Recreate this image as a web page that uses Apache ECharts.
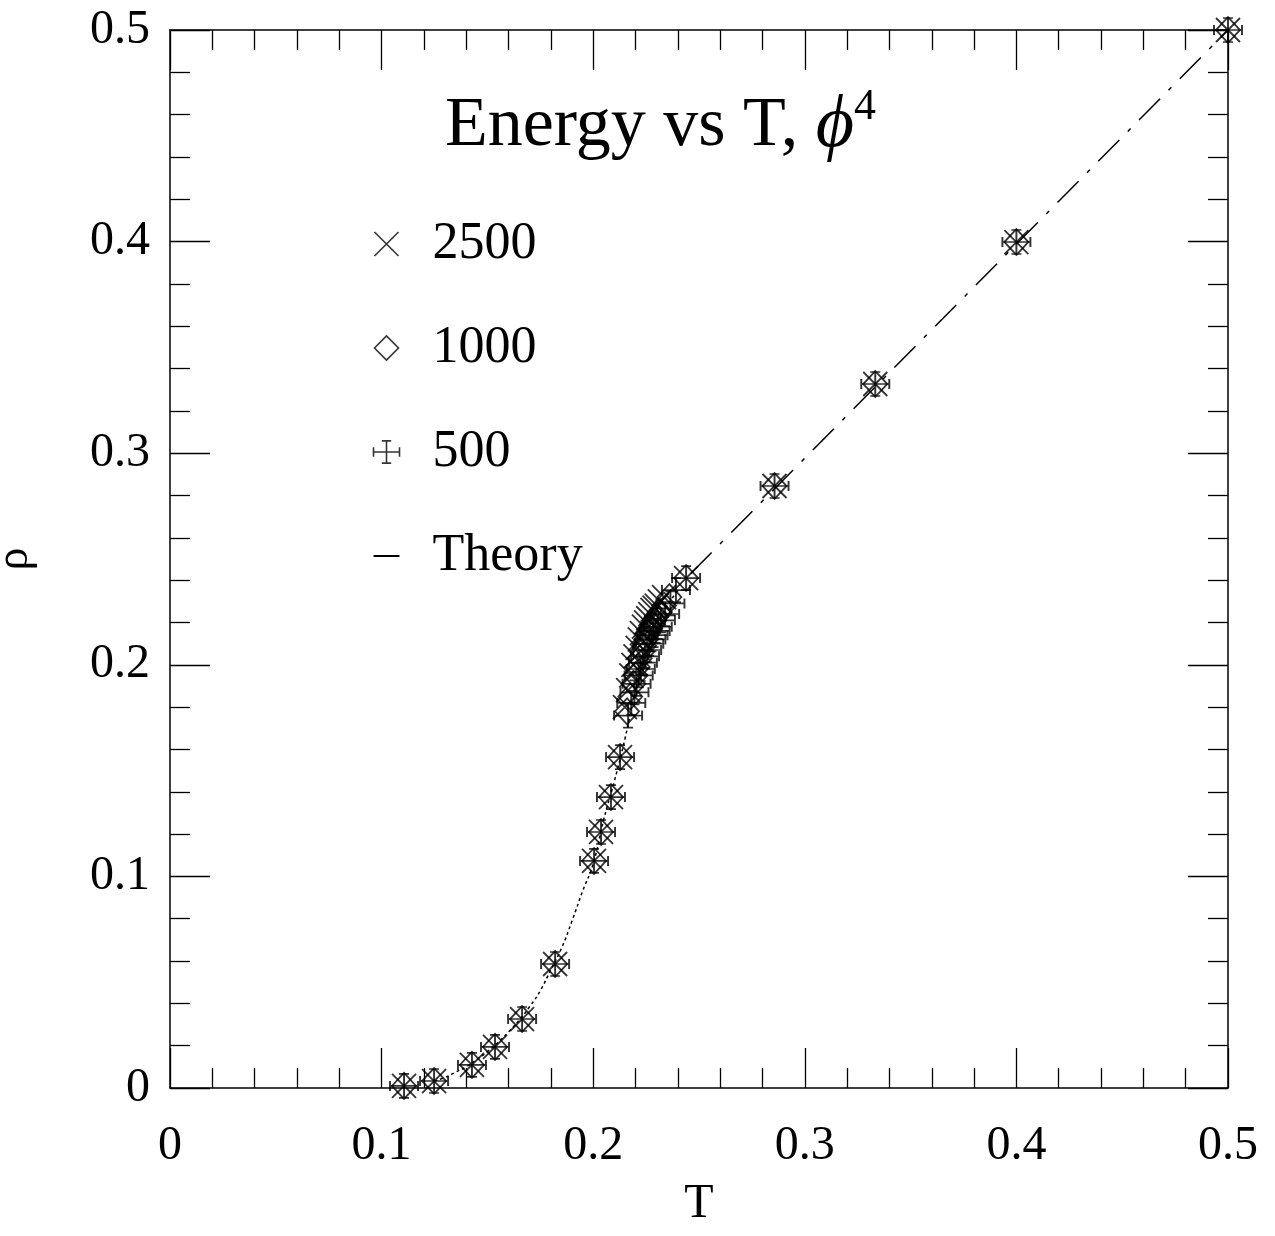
<!DOCTYPE html>
<html>
<head>
<meta charset="utf-8">
<script src="https://cdn.jsdelivr.net/npm/echarts@6/dist/echarts.min.js"></script>
<style>
  html, body { margin: 0; padding: 0; background: #fff; }
  #chart { width: 1275px; height: 1236px; }
</style>
</head>
<body>
<div id="chart"></div>
<script>
// points that all three sizes share (low T and high T side)
const lowT   = [0.1106, 0.1248, 0.1427, 0.1536, 0.1664, 0.1820, 0.2004, 0.2037, 0.2084, 0.2127];
const lowRho = [0.0010, 0.0033, 0.0109, 0.0194, 0.0326, 0.0586, 0.1073, 0.1210, 0.1375, 0.1564];
const highT   = [0.2439, 0.2857, 0.3333, 0.4000, 0.5000];
const highRho = [0.2410, 0.2845, 0.3327, 0.3998, 0.5000];

// crowded region near the transition, one pair per size
const t2500   = [0.2150, 0.2165, 0.2180, 0.2190, 0.2200, 0.2210, 0.2220, 0.2230, 0.2240, 0.2250, 0.2260, 0.2270, 0.2280, 0.2290, 0.2300, 0.2315, 0.2335];
const rho2500 = [0.180, 0.188, 0.195, 0.200, 0.204, 0.208, 0.212, 0.215, 0.218, 0.220, 0.222, 0.224, 0.226, 0.227, 0.228, 0.230, 0.232];
const t1000   = [0.2160, 0.2175, 0.2190, 0.2200, 0.2210, 0.2220, 0.2230, 0.2240, 0.2250, 0.2260, 0.2270, 0.2280, 0.2290, 0.2300, 0.2315, 0.2335, 0.2360];
const rho1000 = [0.178, 0.185, 0.191, 0.195, 0.199, 0.203, 0.206, 0.209, 0.212, 0.215, 0.217, 0.219, 0.221, 0.223, 0.225, 0.228, 0.232];
const t500    = [0.2165, 0.2180, 0.2195, 0.2205, 0.2215, 0.2225, 0.2235, 0.2245, 0.2255, 0.2265, 0.2275, 0.2285, 0.2295, 0.2305, 0.2320, 0.2340, 0.2365, 0.2391];
const rho500  = [0.176, 0.182, 0.187, 0.191, 0.195, 0.198, 0.201, 0.204, 0.207, 0.210, 0.212, 0.214, 0.216, 0.218, 0.221, 0.224, 0.229, 0.2353];

// theory curve: dotted below the transition, dash-dot above
const theoryLowT   = [0.125, 0.13, 0.135, 0.14, 0.145, 0.15, 0.155, 0.16, 0.165, 0.17, 0.175, 0.18, 0.185, 0.19, 0.195, 0.2, 0.205, 0.21, 0.215, 0.22, 0.225, 0.23, 0.235, 0.24];
const theoryLowRho = [0.0033, 0.0050, 0.0075, 0.0100, 0.0135, 0.0172, 0.0215, 0.0265, 0.0320, 0.0385, 0.0460, 0.0560, 0.0660, 0.0790, 0.0930, 0.1060, 0.1270, 0.1450, 0.1650, 0.1880, 0.2050, 0.2180, 0.2280, 0.2350];
const theoryHighT   = [0.246, 0.5];
const theoryHighRho = [0.243, 0.5];

const pair = (xs, ys) => xs.map((x, i) => [x, ys[i]]);
const withShared = (xs, ys) => pair(lowT, lowRho).concat(pair(xs, ys), pair(highT, highRho));

const crossPath = 'path://M0,0L10,10M0,10L10,0';
const diamondPath = 'path://M0,12L12,0L24,12L12,24Z';
const errPath = 'path://M0,12L28,12M14,0L14,24M0,7L0,17M28,7L28,17M9,0L19,0M9,24L19,24';
const linePath = 'path://M0,0L20,0L20,1.5L0,1.5Z';

const serif = 'Liberation Serif';
const markStyle = { color: 'none', borderColor: '#000', borderWidth: 1.8 };

const chart = echarts.init(document.getElementById('chart'));

const baseX = {
  type: 'value', min: 0, max: 0.5, interval: 0.1,
  axisLine: { show: true, onZero: false, lineStyle: { color: '#000', width: 1.5 } },
  axisTick: { show: true, inside: true, length: 40, lineStyle: { color: '#000', width: 1.3 } },
  minorTick: { show: true, splitNumber: 5, length: 20, lineStyle: { color: '#000', width: 1.3 } },
  splitLine: { show: false },
  minorSplitLine: { show: false }
};

chart.setOption({
  animation: false,
  backgroundColor: '#fff',
  title: {
    text: '{a|Energy vs T, }{b|ϕ}{c|4}',
    left: 440,
    top: 80,
    textStyle: {
      fontWeight: 'normal',
      rich: {
        a: { fontFamily: serif, fontWeight: 'normal', fontSize: 70, color: '#000', lineHeight: 84 },
        b: { fontFamily: serif, fontWeight: 'normal', fontStyle: 'italic', fontSize: 74, color: '#000', lineHeight: 84 },
        c: { fontFamily: serif, fontWeight: 'normal', fontSize: 44, color: '#000', verticalAlign: 'top', lineHeight: 42 }
      }
    }
  },
  legend: {
    orient: 'vertical',
    left: 366,
    top: 213,
    itemWidth: 26,
    itemHeight: 24,
    itemGap: 52,
    selectedMode: false,
    itemStyle: { color: 'none', borderColor: '#000', borderWidth: 1.6 },
    textStyle: { fontFamily: serif, fontSize: 52, lineHeight: 50, color: '#000', padding: [0, 0, 0, 28] },
    data: [
      { name: '2500', icon: crossPath },
      { name: '1000', icon: diamondPath },
      { name: '500', icon: errPath },
      { name: 'Theory', icon: linePath, itemStyle: { color: '#000', borderWidth: 0 } }
    ]
  },
  grid: { left: 170, right: 47, top: 30, bottom: 148, containLabel: false, outerBoundsMode: 'none' },
  xAxis: [
    Object.assign({}, baseX, {
      position: 'bottom',
      name: 'T', nameLocation: 'middle', nameGap: 92,
      nameTextStyle: { fontFamily: serif, fontSize: 48, color: '#000' },
      axisLabel: { show: true, margin: 34, fontFamily: serif, fontSize: 48, color: '#000' }
    }),
    Object.assign({}, baseX, { position: 'top', axisLabel: { show: false } })
  ],
  yAxis: [
    Object.assign({}, baseX, {
      position: 'left',
      name: 'ρ', nameLocation: 'middle', nameGap: 132,
      nameTextStyle: { fontFamily: serif, fontSize: 46, color: '#000' },
      axisLabel: { show: true, margin: 20, fontFamily: serif, fontSize: 48, color: '#000' }
    }),
    Object.assign({}, baseX, { position: 'right', axisLabel: { show: false } })
  ],
  series: [
    {
      name: 'Theory', type: 'line', data: pair(theoryLowT, theoryLowRho),
      showSymbol: false, symbol: 'none', smooth: true, z: 1,
      itemStyle: { color: '#000' },
      lineStyle: { color: '#000', width: 1.5, type: [3, 3] }
    },
    {
      name: 'Theory', type: 'line', data: pair(theoryHighT, theoryHighRho),
      showSymbol: false, symbol: 'none', z: 1,
      itemStyle: { color: '#000' },
      lineStyle: { color: '#000', width: 1.5, type: [30, 12, 4, 12] }
    },
    {
      name: '500', type: 'scatter', data: withShared(t500, rho500),
      symbol: errPath, symbolSize: [28, 24], itemStyle: markStyle, z: 3
    },
    {
      name: '1000', type: 'scatter', data: withShared(t1000, rho1000),
      symbol: diamondPath, symbolSize: [24, 26], itemStyle: markStyle, z: 3
    },
    {
      name: '2500', type: 'scatter', data: withShared(t2500, rho2500),
      symbol: crossPath, symbolSize: [24, 24], itemStyle: markStyle, z: 3
    }
  ]
});
</script>
</body>
</html>
